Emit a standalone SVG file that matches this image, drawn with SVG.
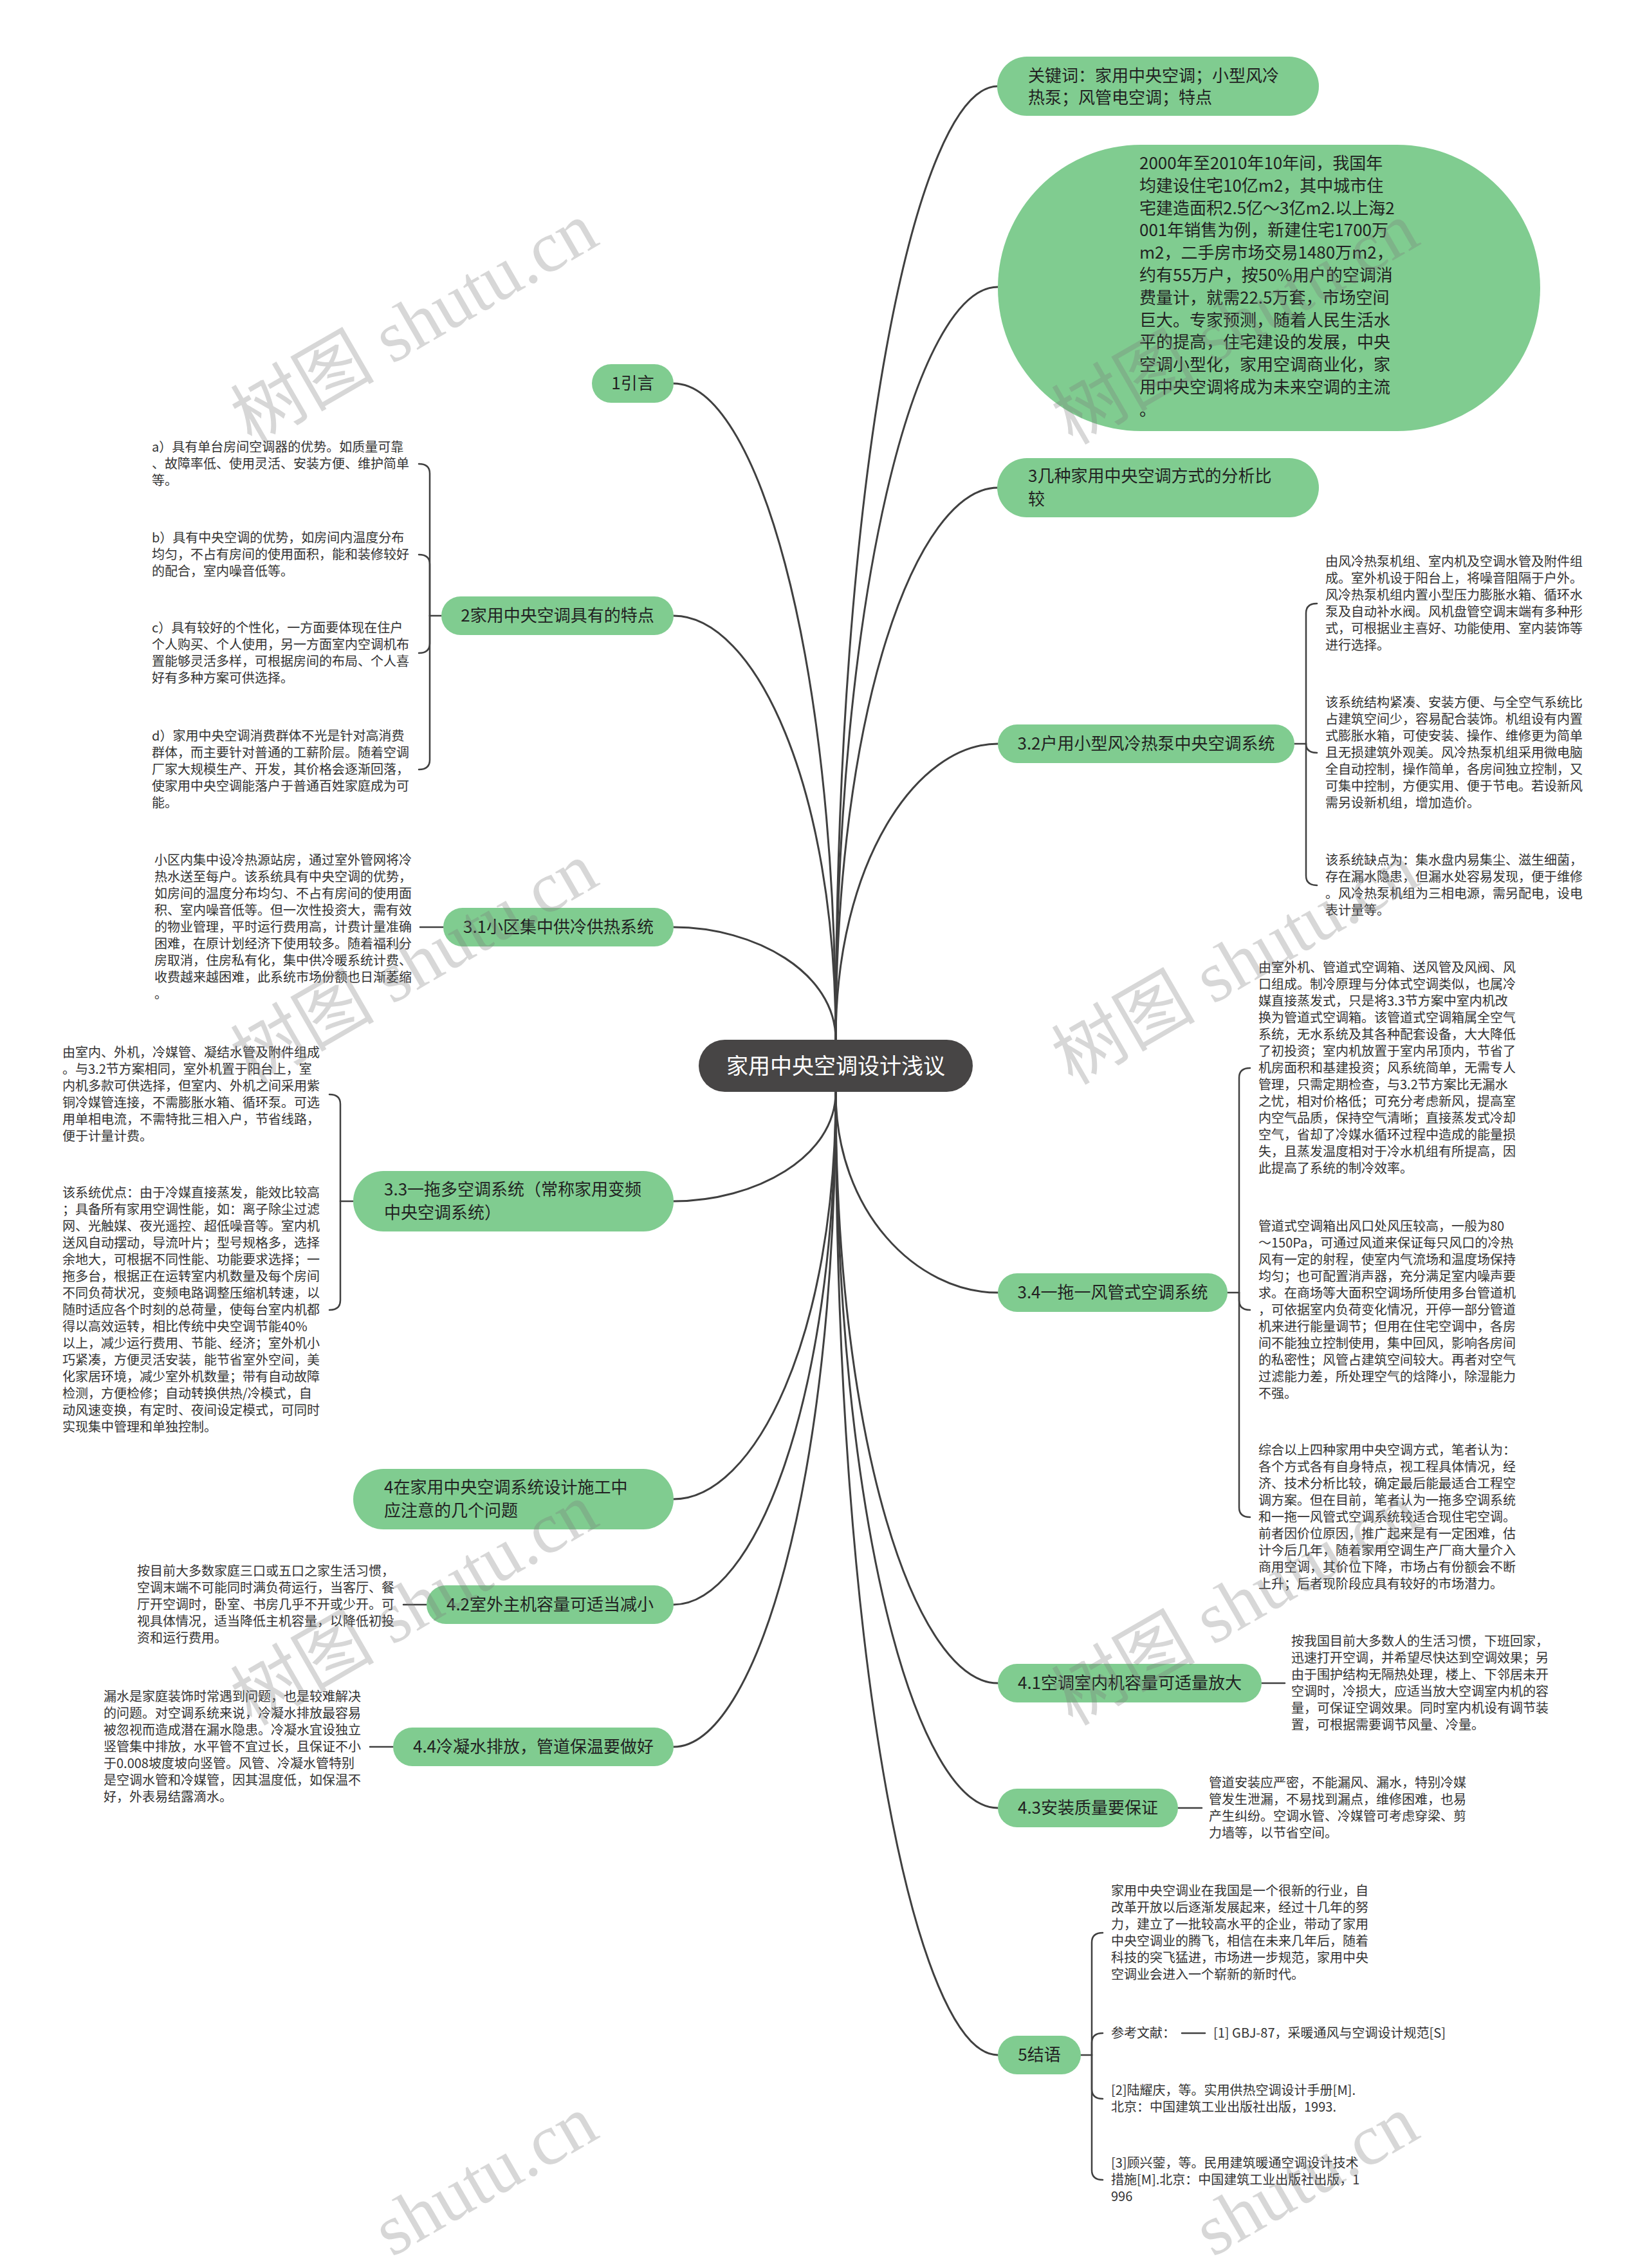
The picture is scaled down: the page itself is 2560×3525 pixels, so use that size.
<svg xmlns="http://www.w3.org/2000/svg" width="2560" height="3525" viewBox="0 0 2560 3525">
<style>
.bg{fill:#ffffff}
.nd{fill:#80cc90}
.ct{fill:#474545}
.nt{font-family:"Noto Sans CJK SC","Liberation Sans",sans-serif;font-size:26px;fill:#222222}
.nc{font-family:"Noto Sans CJK SC","Liberation Sans",sans-serif;font-size:34px;fill:#ffffff}
.lt{font-family:"Noto Sans CJK SC","Liberation Sans",sans-serif;font-size:20px;fill:#333333}
.mid{text-anchor:middle}
.cn{fill:none;stroke:#404040;stroke-width:3;stroke-linecap:round}
.cl{fill:none;stroke:#404040;stroke-width:2.5;stroke-linecap:round}
.wm{font-family:"Liberation Serif","Noto Sans CJK SC",serif;font-size:112px;fill:#7a7a7a;fill-opacity:0.3;text-anchor:middle}
.wme{text-anchor:end}
</style>
<rect class="bg" x="0" y="0" width="2560" height="3525"/>

<g id="connectors">
<path class="cn" d="M1299,1616 C1299,727 1425,134 1551,134"/>
<path class="cn" d="M1299,1616 C1299,914 1425,446 1551,446"/>
<path class="cn" d="M1299,1616 C1299,1101 1425,758 1551,758"/>
<path class="cn" d="M1299,1616 C1299,1340 1425,1156 1551,1156"/>
<path class="cn" d="M1299,1616 C1299,1004 1173,596 1047,596"/>
<path class="cn" d="M1299,1616 C1299,1221 1173,957 1047,957"/>
<path class="cn" d="M1299,1616 C1299,1511 1173,1441 1047,1441"/>
<path class="cn" d="M1299,1697 C1299,1799 1173,1867 1047,1867"/>
<path class="cn" d="M1299,1697 C1299,2077 1173,2330 1047,2330"/>
<path class="cn" d="M1299,1697 C1299,2175 1173,2494 1047,2494"/>
<path class="cn" d="M1299,1697 C1299,2308 1173,2715 1047,2715"/>
<path class="cn" d="M1299,1697 C1299,1884 1425,2009 1551,2009"/>
<path class="cn" d="M1299,1697 C1299,2248 1425,2616 1551,2616"/>
<path class="cn" d="M1299,1697 C1299,2365 1425,2810 1551,2810"/>
<path class="cn" d="M1299,1697 C1299,2595 1425,3194 1551,3194"/>

<path class="cl" d="M686,957 H668"/>
<path class="cl" d="M668,957 V736 Q668,721 651,721"/>
<path class="cl" d="M668,957 V877 Q668,862 651,862"/>
<path class="cl" d="M668,957 V1000 Q668,1015 651,1015"/>
<path class="cl" d="M668,957 V1181 Q668,1196 651,1196"/>

<path class="cl" d="M689,1441 H653"/>

<path class="cl" d="M549,1867 H529"/>
<path class="cl" d="M529,1867 V1716 Q529,1701 512,1701"/>
<path class="cl" d="M529,1867 V2021 Q529,2036 512,2036"/>

<path class="cl" d="M663,2494 H627"/>
<path class="cl" d="M611,2715 H575"/>

<path class="cl" d="M2012,1156 H2030"/>
<path class="cl" d="M2030,1156 V953 Q2030,938 2047,938"/>
<path class="cl" d="M2030,1156 Q2030,1170 2047,1170"/>
<path class="cl" d="M2030,1156 V1361 Q2030,1376 2047,1376"/>

<path class="cl" d="M1908,2009 H1926"/>
<path class="cl" d="M1926,2009 V1675 Q1926,1660 1943,1660"/>
<path class="cl" d="M1926,2009 V2021 Q1926,2036 1943,2036"/>
<path class="cl" d="M1926,2009 V2343 Q1926,2358 1943,2358"/>

<path class="cl" d="M1961,2616 H1997"/>
<path class="cl" d="M1831,2810 H1868"/>

<path class="cl" d="M1680,3194 H1697"/>
<path class="cl" d="M1697,3194 V3019 Q1697,3004 1714,3004"/>
<path class="cl" d="M1697,3194 V3175 Q1697,3160 1714,3160"/>
<path class="cl" d="M1697,3194 V3247 Q1697,3262 1714,3262"/>
<path class="cl" d="M1697,3194 V3373 Q1697,3388 1714,3388"/>
<path class="cl" d="M1837,3160 H1873"/>
</g>

<g id="center">
<rect class="ct" x="1086" y="1616" width="426" height="81" rx="40.5"/>
<text class="nc mid" x="1299" y="1669">家用中央空调设计浅议</text>
</g>

<g id="n-keywords">
<rect class="nd" x="1550" y="88" width="500" height="92" rx="46"/>
<text class="nt" x="1598" y="127">关键词：家用中央空调；小型风冷</text>
<text class="nt" x="1598" y="161">热泵；风管电空调；特点</text>
</g>

<g id="n-background">
<rect class="nd" x="1551" y="225" width="843" height="445" rx="222.5"/>
<text class="nt" x="1771" y="263">2000年至2010年10年间，我国年<tspan x="1771" dy="34.8">均建设住宅10亿m2，其中城市住</tspan><tspan x="1771" dy="34.8">宅建造面积2.5亿～3亿m2.以上海2</tspan><tspan x="1771" dy="34.8">001年销售为例，新建住宅1700万</tspan><tspan x="1771" dy="34.8">m2，二手房市场交易1480万m2，</tspan><tspan x="1771" dy="34.8">约有55万户，按50%用户的空调消</tspan><tspan x="1771" dy="34.8">费量计，就需22.5万套，市场空间</tspan><tspan x="1771" dy="34.8">巨大。专家预测，随着人民生活水</tspan><tspan x="1771" dy="34.8">平的提高，住宅建设的发展，中央</tspan><tspan x="1771" dy="34.8">空调小型化，家用空调商业化，家</tspan><tspan x="1771" dy="34.8">用中央空调将成为未来空调的主流</tspan><tspan x="1771" dy="34.8">。</tspan></text>
</g>

<g id="n-3">
<rect class="nd" x="1550" y="712" width="500" height="92" rx="46"/>
<text class="nt" x="1598" y="749">3几种家用中央空调方式的分析比</text>
<text class="nt" x="1598" y="785">较</text>
</g>

<g id="n-3-2">
<rect class="nd" x="1551" y="1126" width="461" height="60" rx="30"/>
<text class="nt mid" x="1781.5" y="1165">3.2户用小型风冷热泵中央空调系统</text>
</g>
<g id="l-3-2">
<text class="lt" x="2060" y="880">由风冷热泵机组、室内机及空调水管及附件组<tspan x="2060" dy="26">成。室外机设于阳台上，将噪音阻隔于户外。</tspan><tspan x="2060" dy="26">风冷热泵机组内置小型压力膨胀水箱、循环水</tspan><tspan x="2060" dy="26">泵及自动补水阀。风机盘管空调末端有多种形</tspan><tspan x="2060" dy="26">式，可根据业主喜好、功能使用、室内装饰等</tspan><tspan x="2060" dy="26">进行选择。</tspan></text>
<text class="lt" x="2060" y="1099">该系统结构紧凑、安装方便、与全空气系统比<tspan x="2060" dy="26">占建筑空间少，容易配合装饰。机组设有内置</tspan><tspan x="2060" dy="26">式膨胀水箱，可使安装、操作、维修更为简单</tspan><tspan x="2060" dy="26">且无损建筑外观美。风冷热泵机组采用微电脑</tspan><tspan x="2060" dy="26">全自动控制，操作简单，各房间独立控制，又</tspan><tspan x="2060" dy="26">可集中控制，方便实用、便于节电。若设新风</tspan><tspan x="2060" dy="26">需另设新机组，增加造价。</tspan></text>
<text class="lt" x="2060" y="1344">该系统缺点为：集水盘内易集尘、滋生细菌，<tspan x="2060" dy="26">存在漏水隐患，但漏水处容易发现，便于维修</tspan><tspan x="2060" dy="26">。风冷热泵机组为三相电源，需另配电，设电</tspan><tspan x="2060" dy="26">表计量等。</tspan></text>
</g>

<g id="n-3-4">
<rect class="nd" x="1551" y="1979" width="357" height="60" rx="30"/>
<text class="nt mid" x="1729.5" y="2018">3.4一拖一风管式空调系统</text>
</g>
<g id="l-3-4">
<text class="lt" x="1956" y="1511">由室外机、管道式空调箱、送风管及风阀、风<tspan x="1956" dy="26">口组成。制冷原理与分体式空调类似，也属冷</tspan><tspan x="1956" dy="26">媒直接蒸发式，只是将3.3节方案中室内机改</tspan><tspan x="1956" dy="26">换为管道式空调箱。该管道式空调箱属全空气</tspan><tspan x="1956" dy="26">系统，无水系统及其各种配套设备，大大降低</tspan><tspan x="1956" dy="26">了初投资；室内机放置于室内吊顶内，节省了</tspan><tspan x="1956" dy="26">机房面积和基建投资；风系统简单，无需专人</tspan><tspan x="1956" dy="26">管理，只需定期检查，与3.2节方案比无漏水</tspan><tspan x="1956" dy="26">之忧，相对价格低；可充分考虑新风，提高室</tspan><tspan x="1956" dy="26">内空气品质，保持空气清晰；直接蒸发式冷却</tspan><tspan x="1956" dy="26">空气，省却了冷媒水循环过程中造成的能量损</tspan><tspan x="1956" dy="26">失，且蒸发温度相对于冷水机组有所提高，因</tspan><tspan x="1956" dy="26">此提高了系统的制冷效率。</tspan></text>
<text class="lt" x="1956" y="1913">管道式空调箱出风口处风压较高，一般为80<tspan x="1956" dy="26">～150Pa，可通过风道来保证每只风口的冷热</tspan><tspan x="1956" dy="26">风有一定的射程，使室内气流场和温度场保持</tspan><tspan x="1956" dy="26">均匀；也可配置消声器，充分满足室内噪声要</tspan><tspan x="1956" dy="26">求。在商场等大面积空调场所使用多台管道机</tspan><tspan x="1956" dy="26">，可依据室内负荷变化情况，开停一部分管道</tspan><tspan x="1956" dy="26">机来进行能量调节；但用在住宅空调中，各房</tspan><tspan x="1956" dy="26">间不能独立控制使用，集中回风，影响各房间</tspan><tspan x="1956" dy="26">的私密性；风管占建筑空间较大。再者对空气</tspan><tspan x="1956" dy="26">过滤能力差，所处理空气的焓降小，除湿能力</tspan><tspan x="1956" dy="26">不强。</tspan></text>
<text class="lt" x="1956" y="2261">综合以上四种家用中央空调方式，笔者认为：<tspan x="1956" dy="26">各个方式各有自身特点，视工程具体情况，经</tspan><tspan x="1956" dy="26">济、技术分析比较，确定最后能最适合工程空</tspan><tspan x="1956" dy="26">调方案。但在目前，笔者认为一拖多空调系统</tspan><tspan x="1956" dy="26">和一拖一风管式空调系统较适合现住宅空调。</tspan><tspan x="1956" dy="26">前者因价位原因，推广起来是有一定困难，估</tspan><tspan x="1956" dy="26">计今后几年，随着家用空调生产厂商大量介入</tspan><tspan x="1956" dy="26">商用空调，其价位下降，市场占有份额会不断</tspan><tspan x="1956" dy="26">上升；后者现阶段应具有较好的市场潜力。</tspan></text>
</g>

<g id="n-4-1">
<rect class="nd" x="1551" y="2586" width="410" height="60" rx="30"/>
<text class="nt mid" x="1756" y="2625">4.1空调室内机容量可适量放大</text>
</g>
<g id="l-4-1">
<text class="lt" x="2007" y="2558">按我国目前大多数人的生活习惯，下班回家，<tspan x="2007" dy="26">迅速打开空调，并希望尽快达到空调效果；另</tspan><tspan x="2007" dy="26">由于围护结构无隔热处理，楼上、下邻居未开</tspan><tspan x="2007" dy="26">空调时，冷损大，应适当放大空调室内机的容</tspan><tspan x="2007" dy="26">量，可保证空调效果。同时室内机设有调节装</tspan><tspan x="2007" dy="26">置，可根据需要调节风量、冷量。</tspan></text>
</g>

<g id="n-4-3">
<rect class="nd" x="1551" y="2780" width="280" height="60" rx="30"/>
<text class="nt mid" x="1691" y="2819">4.3安装质量要保证</text>
</g>
<g id="l-4-3">
<text class="lt" x="1879" y="2778">管道安装应严密，不能漏风、漏水，特别冷媒<tspan x="1879" dy="26">管发生泄漏，不易找到漏点，维修困难，也易</tspan><tspan x="1879" dy="26">产生纠纷。空调水管、冷媒管可考虑穿梁、剪</tspan><tspan x="1879" dy="26">力墙等，以节省空间。</tspan></text>
</g>

<g id="n-5">
<rect class="nd" x="1551" y="3164" width="129" height="60" rx="30"/>
<text class="nt mid" x="1615.5" y="3203">5结语</text>
</g>
<g id="l-5">
<text class="lt" x="1727" y="2946">家用中央空调业在我国是一个很新的行业，自<tspan x="1727" dy="26">改革开放以后逐渐发展起来，经过十几年的努</tspan><tspan x="1727" dy="26">力，建立了一批较高水平的企业，带动了家用</tspan><tspan x="1727" dy="26">中央空调业的腾飞，相信在未来几年后，随着</tspan><tspan x="1727" dy="26">科技的突飞猛进，市场进一步规范，家用中央</tspan><tspan x="1727" dy="26">空调业会进入一个崭新的新时代。</tspan></text>
<text class="lt" x="1727" y="3167">参考文献：</text>
<text class="lt" x="1886" y="3167">[1] GBJ-87，采暖通风与空调设计规范[S]</text>
<text class="lt" x="1727" y="3256">[2]陆耀庆，等。实用供热空调设计手册[M].<tspan x="1727" dy="26">北京：中国建筑工业出版社出版，1993.</tspan></text>
<text class="lt" x="1727" y="3369">[3]顾兴蓥，等。民用建筑暖通空调设计技术<tspan x="1727" dy="26">措施[M].北京：中国建筑工业出版社出版，1</tspan><tspan x="1727" dy="26">996</tspan></text>
</g>

<g id="n-1">
<rect class="nd" x="920" y="566" width="127" height="60" rx="30"/>
<text class="nt mid" x="983.5" y="605">1引言</text>
</g>

<g id="n-2">
<rect class="nd" x="686" y="927" width="361" height="60" rx="30"/>
<text class="nt mid" x="866.5" y="966">2家用中央空调具有的特点</text>
</g>
<g id="l-2">
<text class="lt" x="236" y="702">a）具有单台房间空调器的优势。如质量可靠<tspan x="236" dy="26">、故障率低、使用灵活、安装方便、维护简单</tspan><tspan x="236" dy="26">等。</tspan></text>
<text class="lt" x="236" y="843">b）具有中央空调的优势，如房间内温度分布<tspan x="236" dy="26">均匀，不占有房间的使用面积，能和装修较好</tspan><tspan x="236" dy="26">的配合，室内噪音低等。</tspan></text>
<text class="lt" x="236" y="983">c）具有较好的个性化，一方面要体现在住户<tspan x="236" dy="26">个人购买、个人使用，另一方面室内空调机布</tspan><tspan x="236" dy="26">置能够灵活多样，可根据房间的布局、个人喜</tspan><tspan x="236" dy="26">好有多种方案可供选择。</tspan></text>
<text class="lt" x="236" y="1151">d）家用中央空调消费群体不光是针对高消费<tspan x="236" dy="26">群体，而主要针对普通的工薪阶层。随着空调</tspan><tspan x="236" dy="26">厂家大规模生产、开发，其价格会逐渐回落，</tspan><tspan x="236" dy="26">使家用中央空调能落户于普通百姓家庭成为可</tspan><tspan x="236" dy="26">能。</tspan></text>
</g>

<g id="n-3-1">
<rect class="nd" x="689" y="1411" width="358" height="60" rx="30"/>
<text class="nt mid" x="868" y="1450">3.1小区集中供冷供热系统</text>
</g>
<g id="l-3-1">
<text class="lt" x="240" y="1344">小区内集中设冷热源站房，通过室外管网将冷<tspan x="240" dy="26">热水送至每户。该系统具有中央空调的优势，</tspan><tspan x="240" dy="26">如房间的温度分布均匀、不占有房间的使用面</tspan><tspan x="240" dy="26">积、室内噪音低等。但一次性投资大，需有效</tspan><tspan x="240" dy="26">的物业管理，平时运行费用高，计费计量准确</tspan><tspan x="240" dy="26">困难，在原计划经济下使用较多。随着福利分</tspan><tspan x="240" dy="26">房取消，住房私有化，集中供冷暖系统计费、</tspan><tspan x="240" dy="26">收费越来越困难，此系统市场份额也日渐萎缩</tspan><tspan x="240" dy="26">。</tspan></text>
</g>

<g id="n-3-3">
<rect class="nd" x="549" y="1820" width="498" height="94" rx="47"/>
<text class="nt" x="597" y="1858">3.3一拖多空调系统（常称家用变频</text>
<text class="nt" x="597" y="1894">中央空调系统）</text>
</g>
<g id="l-3-3">
<text class="lt" x="97" y="1643">由室内、外机，冷媒管、凝结水管及附件组成<tspan x="97" dy="26">。与3.2节方案相同，室外机置于阳台上，室</tspan><tspan x="97" dy="26">内机多款可供选择，但室内、外机之间采用紫</tspan><tspan x="97" dy="26">铜冷媒管连接，不需膨胀水箱、循环泵。可选</tspan><tspan x="97" dy="26">用单相电流，不需特批三相入户，节省线路，</tspan><tspan x="97" dy="26">便于计量计费。</tspan></text>
<text class="lt" x="97" y="1861">该系统优点：由于冷媒直接蒸发，能效比较高<tspan x="97" dy="26">；具备所有家用空调性能，如：离子除尘过滤</tspan><tspan x="97" dy="26">网、光触媒、夜光遥控、超低噪音等。室内机</tspan><tspan x="97" dy="26">送风自动摆动，导流叶片；型号规格多，选择</tspan><tspan x="97" dy="26">余地大，可根据不同性能、功能要求选择；一</tspan><tspan x="97" dy="26">拖多台，根据正在运转室内机数量及每个房间</tspan><tspan x="97" dy="26">不同负荷状况，变频电路调整压缩机转速，以</tspan><tspan x="97" dy="26">随时适应各个时刻的总荷量，使每台室内机都</tspan><tspan x="97" dy="26">得以高效运转，相比传统中央空调节能40%</tspan><tspan x="97" dy="26">以上，减少运行费用、节能、经济；室外机小</tspan><tspan x="97" dy="26">巧紧凑，方便灵活安装，能节省室外空间，美</tspan><tspan x="97" dy="26">化家居环境，减少室外机数量；带有自动故障</tspan><tspan x="97" dy="26">检测，方便检修；自动转换供热/冷模式，自</tspan><tspan x="97" dy="26">动风速变换，有定时、夜间设定模式，可同时</tspan><tspan x="97" dy="26">实现集中管理和单独控制。</tspan></text>
</g>

<g id="n-4">
<rect class="nd" x="549" y="2283" width="498" height="94" rx="47"/>
<text class="nt" x="597" y="2321">4在家用中央空调系统设计施工中</text>
<text class="nt" x="597" y="2357">应注意的几个问题</text>
</g>

<g id="n-4-2">
<rect class="nd" x="663" y="2464" width="384" height="60" rx="30"/>
<text class="nt mid" x="855" y="2503">4.2室外主机容量可适当减小</text>
</g>
<g id="l-4-2">
<text class="lt" x="213" y="2449">按目前大多数家庭三口或五口之家生活习惯，<tspan x="213" dy="26">空调末端不可能同时满负荷运行，当客厅、餐</tspan><tspan x="213" dy="26">厅开空调时，卧室、书房几乎不开或少开。可</tspan><tspan x="213" dy="26">视具体情况，适当降低主机容量，以降低初投</tspan><tspan x="213" dy="26">资和运行费用。</tspan></text>
</g>

<g id="n-4-4">
<rect class="nd" x="611" y="2685" width="436" height="60" rx="30"/>
<text class="nt mid" x="829" y="2724">4.4冷凝水排放，管道保温要做好</text>
</g>
<g id="l-4-4">
<text class="lt" x="161" y="2644">漏水是家庭装饰时常遇到问题，也是较难解决<tspan x="161" dy="26">的问题。对空调系统来说，冷凝水排放最容易</tspan><tspan x="161" dy="26">被忽视而造成潜在漏水隐患。冷凝水宜设独立</tspan><tspan x="161" dy="26">竖管集中排放，水平管不宜过长，且保证不小</tspan><tspan x="161" dy="26">于0.008坡度坡向竖管。风管、冷凝水管特别</tspan><tspan x="161" dy="26">是空调水管和冷媒管，因其温度低，如保温不</tspan><tspan x="161" dy="26">好，外表易结露滴水。</tspan></text>
</g>

<g id="watermark">
<text class="wm" x="646" y="540" transform="rotate(-30 646 506)">树图 shutu.cn</text>
<text class="wm" x="1922" y="540" transform="rotate(-30 1922 506)">树图 shutu.cn</text>
<text class="wm" x="646" y="1535" transform="rotate(-30 646 1501)">树图 shutu.cn</text>
<text class="wm" x="1922" y="1535" transform="rotate(-30 1922 1501)">树图 shutu.cn</text>
<text class="wm" x="646" y="2531" transform="rotate(-30 646 2497)">树图 shutu.cn</text>
<text class="wm" x="1922" y="2531" transform="rotate(-30 1922 2497)">树图 shutu.cn</text>
<text class="wm wme" x="960" y="3527" transform="translate(0 -45) rotate(-30 646 3493)">shutu.cn</text>
<text class="wm wme" x="2236" y="3527" transform="translate(0 -45) rotate(-30 1922 3493)">shutu.cn</text>
</g>
</svg>
